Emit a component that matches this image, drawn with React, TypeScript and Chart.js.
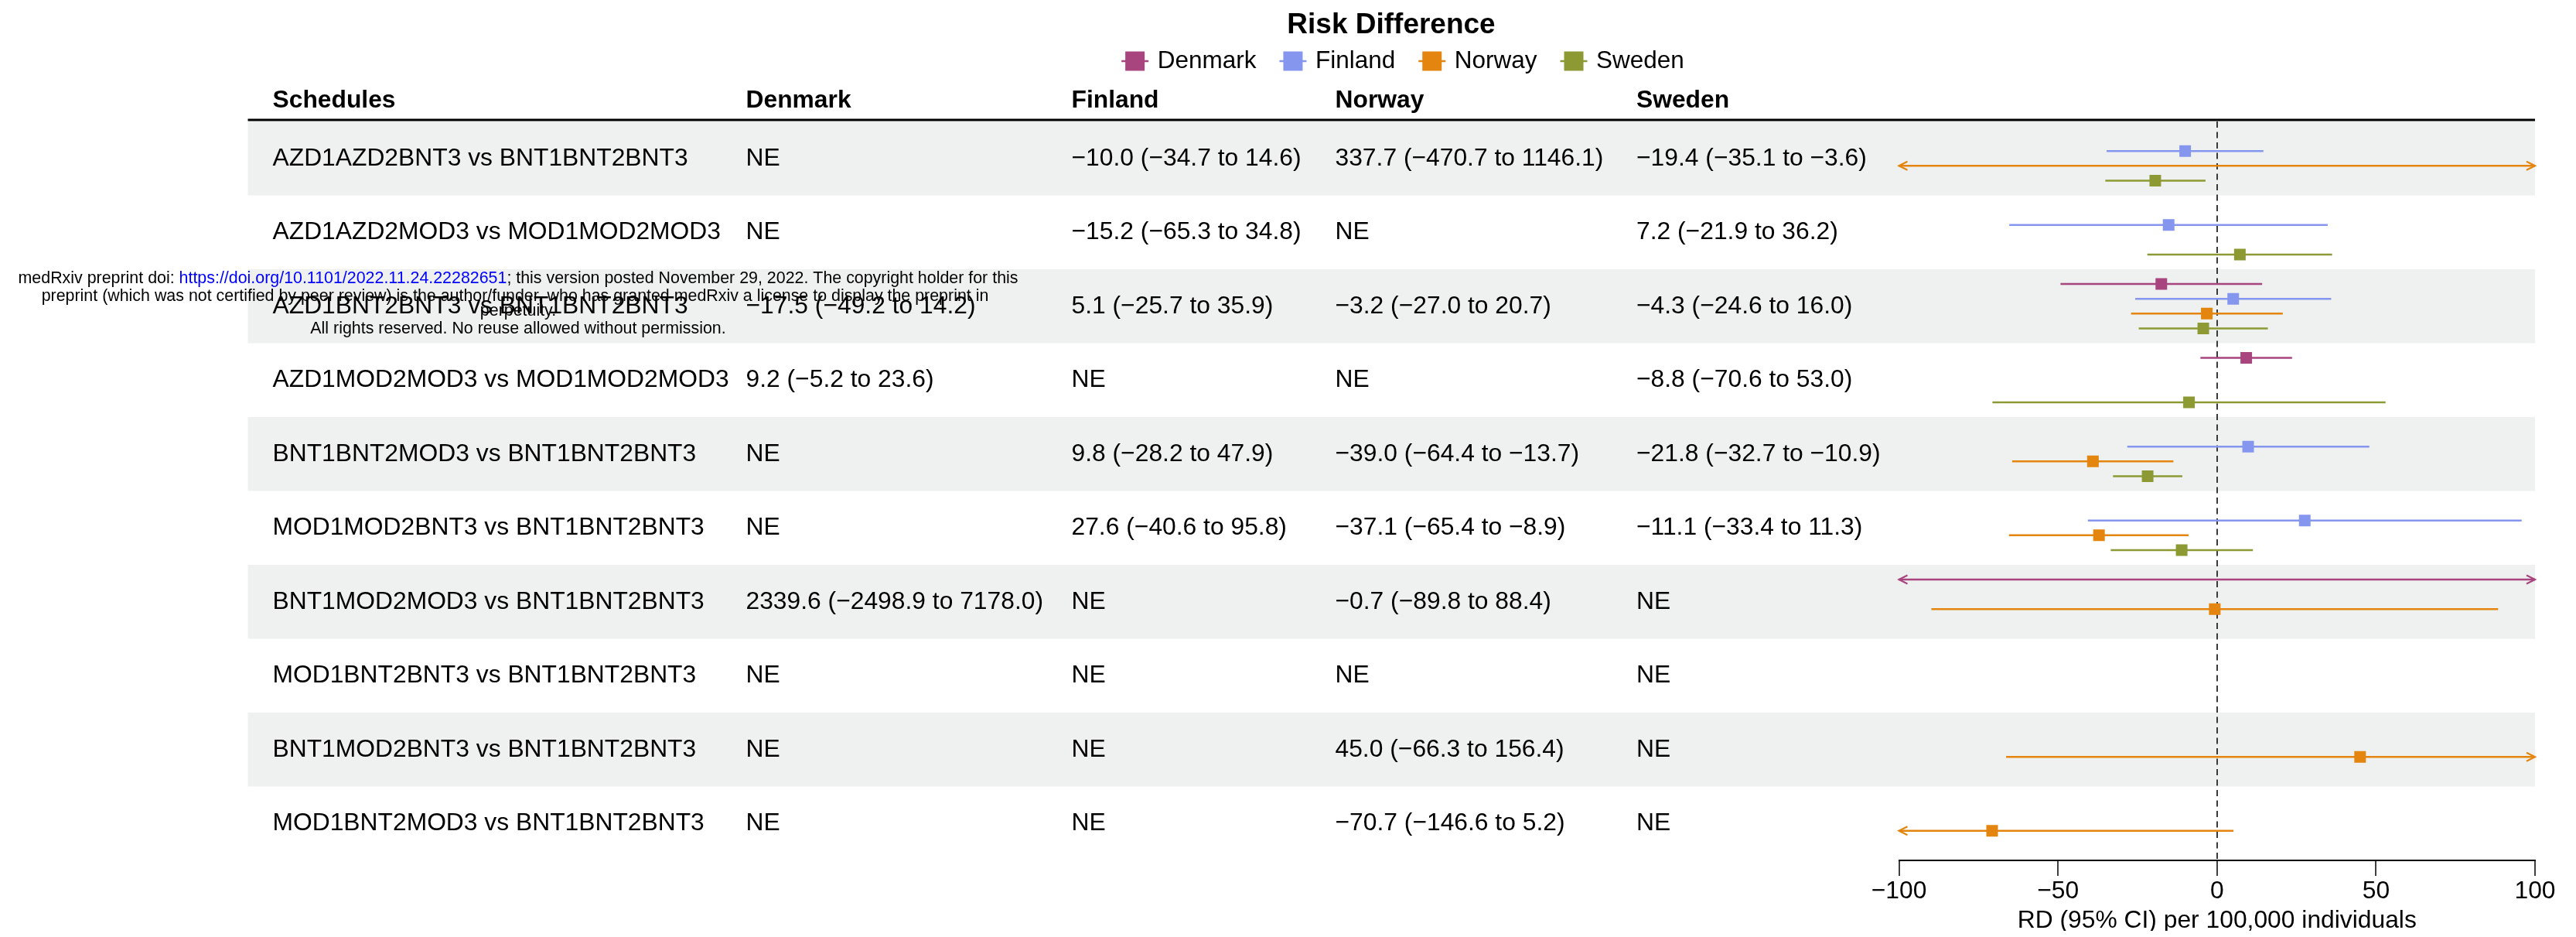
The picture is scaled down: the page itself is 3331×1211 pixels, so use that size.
import React, { useEffect, useRef } from 'react';
import { Chart, registerables } from 'chart.js';

Chart.register(...registerables);

// ---------------- data ----------------
const schedules = [
  'AZD1AZD2BNT3 vs BNT1BNT2BNT3',
  'AZD1AZD2MOD3 vs MOD1MOD2MOD3',
  'AZD1BNT2BNT3 vs BNT1BNT2BNT3',
  'AZD1MOD2MOD3 vs MOD1MOD2MOD3',
  'BNT1BNT2MOD3 vs BNT1BNT2BNT3',
  'MOD1MOD2BNT3 vs BNT1BNT2BNT3',
  'BNT1MOD2MOD3 vs BNT1BNT2BNT3',
  'MOD1BNT2BNT3 vs BNT1BNT2BNT3',
  'BNT1MOD2BNT3 vs BNT1BNT2BNT3',
  'MOD1BNT2MOD3 vs BNT1BNT2BNT3',
];

const countries = ['Denmark', 'Finland', 'Norway', 'Sweden'];
const countryColors = ['#A8447E', '#8596EE', '#E4850F', '#8D9A34'];
const columnHeaders = ['Schedules', 'Denmark', 'Finland', 'Norway', 'Sweden'];

// null = NE (not estimable)
const denmarkRD = [null, null, -17.5, 9.2, null, null, 2339.6, null, null, null];
const denmarkLower = [null, null, -49.2, -5.2, null, null, -2498.9, null, null, null];
const denmarkUpper = [null, null, 14.2, 23.6, null, null, 7178.0, null, null, null];

const finlandRD = [-10.0, -15.2, 5.1, null, 9.8, 27.6, null, null, null, null];
const finlandLower = [-34.7, -65.3, -25.7, null, -28.2, -40.6, null, null, null, null];
const finlandUpper = [14.6, 34.8, 35.9, null, 47.9, 95.8, null, null, null, null];

const norwayRD = [337.7, null, -3.2, null, -39.0, -37.1, -0.7, null, 45.0, -70.7];
const norwayLower = [-470.7, null, -27.0, null, -64.4, -65.4, -89.8, null, -66.3, -146.6];
const norwayUpper = [1146.1, null, 20.7, null, -13.7, -8.9, 88.4, null, 156.4, 5.2];

const swedenRD = [-19.4, 7.2, -4.3, -8.8, -21.8, -11.1, null, null, null, null];
const swedenLower = [-35.1, -21.9, -24.6, -70.6, -32.7, -33.4, null, null, null, null];
const swedenUpper = [-3.6, 36.2, 16.0, 53.0, -10.9, 11.3, null, null, null, null];

const xTicks = [-100, -50, 0, 50, 100];
const chartTitle = 'Risk Difference';
const xAxisTitle = 'RD (95% CI) per 100,000 individuals';

const watermarkPre = 'medRxiv preprint doi: ';
const watermarkLink = 'https://doi.org/10.1101/2022.11.24.22282651';
const watermarkPost = '; this version posted November 29, 2022. The copyright holder for this';
const watermarkLine2 =
  'preprint (which was not certified by peer review) is the author/funder, who has granted medRxiv a license to display the preprint in';
const watermarkLine3 = 'perpetuity.';
const watermarkLine4 = 'All rights reserved. No reuse allowed without permission.';

// ---------------- derived ----------------
const estimates = [denmarkRD, finlandRD, norwayRD, swedenRD];
const lowers = [denmarkLower, finlandLower, norwayLower, swedenLower];
const uppers = [denmarkUpper, finlandUpper, norwayUpper, swedenUpper];

// ---------------- layout / style ----------------
const FONT = "'Liberation Sans', Arial, Helvetica, sans-serif";
const TEXT_SIZE = 31.8;
const CANVAS_W = 3315;
const CANVAS_H = 1195;
const TABLE_LEFT = 312.5;
const COLUMN_X = [344.5, 956.5, 1377.5, 1718.5, 2108];
const HEADER_Y = 122;
const HEADER_LINE_Y = 147;
const BAND_COLOR = '#EEF1F0';
const TITLE_X = 1791;
const TITLE_Y = 25;
const LEGEND_CX = 1806;
const LEGEND_Y = 71;
const DODGE = 0.2;

const rowY = (row: number, country: number) => row + 0.5 + (country - (countries.length - 1) / 2) * DODGE;

const fmt = (v: number) => (v < 0 ? '\u2212' : '') + Math.abs(v).toFixed(1);
const cellText = (c: number, i: number) => {
  const e = estimates[c][i];
  if (e === null || e === undefined) return 'NE';
  return `${fmt(e)} (${fmt(lowers[c][i] as number)} to ${fmt(uppers[c][i] as number)})`;
};

const forestPlugin = {
  id: 'forestTable',
  beforeDraw(chart: any) {
    const { ctx, chartArea, scales } = chart;
    const y = scales.y;
    ctx.save();
    ctx.fillStyle = BAND_COLOR;
    schedules.forEach((_, i) => {
      if (i % 2 === 0) {
        const top = y.getPixelForValue(i);
        const bottom = y.getPixelForValue(i + 1);
        ctx.fillRect(TABLE_LEFT, top, chartArea.right - TABLE_LEFT, bottom - top);
      }
    });
    ctx.restore();
  },
  afterDatasetsDraw(chart: any) {
    const { ctx, scales } = chart;
    const x = scales.x;
    const y = scales.y;
    ctx.save();
    ctx.lineWidth = 2.2;
    ctx.lineJoin = 'miter';
    countries.forEach((_, c) => {
      ctx.strokeStyle = countryColors[c];
      schedules.forEach((__, i) => {
        const e = estimates[c][i];
        if (e === null) return;
        const yp = y.getPixelForValue(rowY(i, c));
        const lo = lowers[c][i] as number;
        const hi = uppers[c][i] as number;
        const heads: [number, number][] = [];
        if (lo < x.min) heads.push([x.getPixelForValue(x.min), 1]);
        if (hi > x.max) heads.push([x.getPixelForValue(x.max), -1]);
        heads.forEach(([tip, dir]) => {
          ctx.beginPath();
          ctx.moveTo(tip + dir * 11, yp - 5.5);
          ctx.lineTo(tip, yp);
          ctx.lineTo(tip + dir * 11, yp + 5.5);
          ctx.stroke();
        });
      });
    });
    ctx.restore();
  },
  afterDraw(chart: any) {
    const { ctx, chartArea, scales } = chart;
    const y = scales.y;
    ctx.save();
    ctx.textBaseline = 'middle';
    ctx.textAlign = 'left';
    ctx.fillStyle = '#000';

    // header
    ctx.font = `bold ${TEXT_SIZE}px ${FONT}`;
    columnHeaders.forEach((h, k) => ctx.fillText(h, COLUMN_X[k], HEADER_Y));
    ctx.strokeStyle = '#000';
    ctx.lineWidth = 3;
    ctx.beginPath();
    ctx.moveTo(TABLE_LEFT, HEADER_LINE_Y);
    ctx.lineTo(chartArea.right, HEADER_LINE_Y);
    ctx.stroke();

    // rows
    ctx.font = `${TEXT_SIZE}px ${FONT}`;
    schedules.forEach((s, i) => {
      const yp = y.getPixelForValue(i + 0.5);
      ctx.fillText(s, COLUMN_X[0], yp);
      countries.forEach((_, c) => ctx.fillText(cellText(c, i), COLUMN_X[c + 1], yp));
    });

    // title
    ctx.font = `bold 37px ${FONT}`;
    ctx.textAlign = 'center';
    ctx.fillText(chartTitle, TITLE_X, TITLE_Y);

    // legend
    ctx.font = `31.5px ${FONT}`;
    ctx.textAlign = 'left';
    const KEY_W = 35, SQ = 25, KEY_GAP = 11.5, ITEM_GAP = 30;
    const widths = countries.map((n) => ctx.measureText(n).width);
    const total = widths.reduce((a, w) => a + KEY_W + KEY_GAP + w, 0) + ITEM_GAP * (countries.length - 1);
    let lx = LEGEND_CX - total / 2;
    countries.forEach((n, c) => {
      ctx.strokeStyle = countryColors[c];
      ctx.lineWidth = 2.5;
      ctx.beginPath();
      ctx.moveTo(lx, LEGEND_Y);
      ctx.lineTo(lx + KEY_W, LEGEND_Y);
      ctx.stroke();
      ctx.fillStyle = countryColors[c];
      ctx.fillRect(lx + KEY_W / 2 - SQ / 2, LEGEND_Y - SQ / 2, SQ, SQ);
      ctx.fillStyle = '#000';
      ctx.fillText(n, lx + KEY_W + KEY_GAP, LEGEND_Y);
      lx += KEY_W + KEY_GAP + widths[c] + ITEM_GAP;
    });

    // medRxiv watermark
    const WM_X = 662;
    ctx.font = `21.4px ${FONT}`;
    const w1 = ctx.measureText(watermarkPre).width;
    const w2 = ctx.measureText(watermarkLink).width;
    const w3 = ctx.measureText(watermarkPost).width;
    const wx = WM_X - (w1 + w2 + w3) / 2;
    ctx.textAlign = 'left';
    ctx.fillStyle = '#000';
    ctx.fillText(watermarkPre, wx, 352);
    ctx.fillStyle = '#0000FF';
    ctx.fillText(watermarkLink, wx + w1, 352);
    ctx.fillStyle = '#000';
    ctx.fillText(watermarkPost, wx + w1 + w2, 352);
    ctx.textAlign = 'center';
    ctx.fillText(watermarkLine2, WM_X - 4, 375);
    ctx.fillText(watermarkLine3, WM_X, 394);
    ctx.fillText(watermarkLine4, WM_X, 417);
    ctx.restore();
  },
};

export default function App() {
  const canvasRef = useRef<HTMLCanvasElement | null>(null);

  useEffect(() => {
    const canvas = canvasRef.current;
    if (!canvas) return;

    const markerSets = countries.map((name, c) => ({
      type: 'scatter' as const,
      label: name,
      data: schedules.map((_, i) =>
        estimates[c][i] === null ? { x: null, y: null } : { x: estimates[c][i], y: rowY(i, c) }
      ),
      pointStyle: 'rect',
      pointRadius: 10.6,
      pointBorderWidth: 0,
      pointBackgroundColor: countryColors[c],
      pointBorderColor: countryColors[c],
      order: 0,
    }));

    const ciSets = countries.map((name, c) => {
      const pts: any[] = [];
      schedules.forEach((_, i) => {
        if (estimates[c][i] === null) return;
        pts.push({ x: lowers[c][i], y: rowY(i, c) });
        pts.push({ x: uppers[c][i], y: rowY(i, c) });
        pts.push({ x: null, y: null });
      });
      return {
        type: 'line' as const,
        label: name + ' CI',
        data: pts,
        borderColor: countryColors[c],
        borderWidth: 2.5,
        pointRadius: 0,
        pointHoverRadius: 0,
        fill: false,
        tension: 0,
        spanGaps: false,
        borderCapStyle: 'butt',
        order: 1,
      };
    });

    const chart = new Chart(canvas, {
      type: 'scatter',
      data: { datasets: [...markerSets, ...ciSets] as any },
      options: {
        responsive: false,
        maintainAspectRatio: false,
        animation: false,
        devicePixelRatio: 1,
        events: [],
        layout: { padding: { top: 149, left: 2447.5, right: 45, bottom: 0 } },
        plugins: {
          legend: { display: false },
          title: { display: false },
          tooltip: { enabled: false },
        },
        scales: {
          x: {
            type: 'linear',
            min: xTicks[0],
            max: xTicks[xTicks.length - 1],
            afterFit: (scale: any) => {
              scale.height = 91;
            },
            afterBuildTicks: (scale: any) => {
              scale.ticks = xTicks.map((v) => ({ value: v }));
            },
            ticks: {
              color: '#000',
              padding: 4,
              maxRotation: 0,
              autoSkip: false,
              font: { family: FONT, size: TEXT_SIZE, lineHeight: 1 },
              callback: (v: any) => (Number(v) < 0 ? '\u2212' + Math.abs(Number(v)) : String(v)),
            },
            grid: {
              display: true,
              drawOnChartArea: true,
              drawTicks: true,
              tickLength: 20,
              tickWidth: 1.5,
              tickColor: '#000',
              lineWidth: 2,
              color: (ctx: any) => (ctx.tick && ctx.tick.value === 0 ? '#3A3A3A' : 'rgba(0,0,0,0)'),
            },
            border: { display: true, color: '#000', width: 2, dash: [8, 5.5] },
            title: {
              display: true,
              text: xAxisTitle,
              color: '#000',
              font: { family: FONT, size: TEXT_SIZE, lineHeight: 0.8 },
              padding: { top: 0, bottom: 0 },
            },
          },
          y: {
            type: 'linear',
            display: false,
            min: 0,
            max: schedules.length,
            reverse: true,
          },
        },
      } as any,
      plugins: [forestPlugin],
    });

    return () => chart.destroy();
  }, []);

  return (
    <canvas
      ref={canvasRef}
      width={CANVAS_W}
      height={CANVAS_H}
      style={{ display: 'block', width: CANVAS_W + 'px', height: CANVAS_H + 'px' }}
    />
  );
}
